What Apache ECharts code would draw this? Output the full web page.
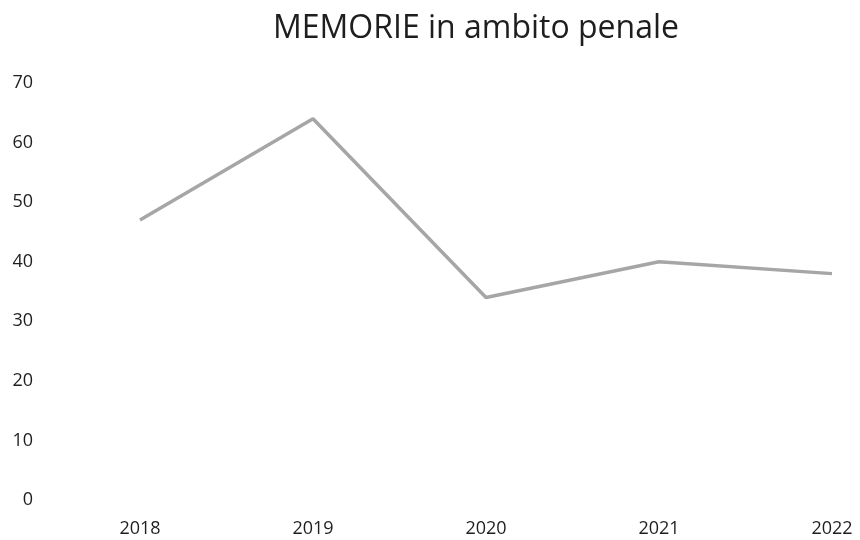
<!DOCTYPE html>
<html>
<head>
<meta charset="utf-8">
<script src="https://cdn.jsdelivr.net/npm/echarts@6/dist/echarts.min.js"></script>
<style>
  html, body { margin: 0; padding: 0; background: #fff; }
  #chart { width: 860px; height: 540px; }
</style>
</head>
<body>
<div id="chart"></div>
<script>
const years = ['2018', '2019', '2020', '2021', '2022'];
const memorie = [47, 64, 34, 40, 38];
const yTicks = [0, 10, 20, 30, 40, 50, 60, 70];

const chart = echarts.init(document.getElementById('chart'));
const font = '"Open Sans", "Noto Sans", sans-serif';

const option = {
  animation: false,
  title: {
    text: 'MEMORIE in ambito penale',
    left: 471,
    top: 8,
    textAlign: 'center',
    textStyle: {
      fontFamily: font,
      fontSize: 32,
      fontWeight: 'normal',
      color: '#1e1e1e'
    }
  },
  grid: {
    left: 140,
    right: 28,
    top: 83,
    bottom: 40
  },
  xAxis: {
    type: 'category',
    data: years,
    boundaryGap: false,
    axisLine: { show: false },
    axisTick: { show: false },
    axisLabel: {
      margin: 20,
      fontFamily: font,
      fontSize: 18,
      color: '#1e1e1e'
    }
  },
  yAxis: {
    type: 'value',
    min: yTicks[0],
    max: yTicks[yTicks.length - 1],
    interval: 10,
    splitLine: { show: false },
    axisLine: { show: false },
    axisTick: { show: false },
    axisLabel: {
      margin: 107,
      fontFamily: font,
      fontSize: 18,
      color: '#1e1e1e'
    }
  },
  series: [
    {
      name: 'MEMORIE',
      type: 'line',
      data: memorie,
      symbol: 'none',
      lineStyle: { color: '#a6a6a6', width: 3.5 }
    }
  ]
};
chart.setOption(option);
</script>
</body>
</html>
